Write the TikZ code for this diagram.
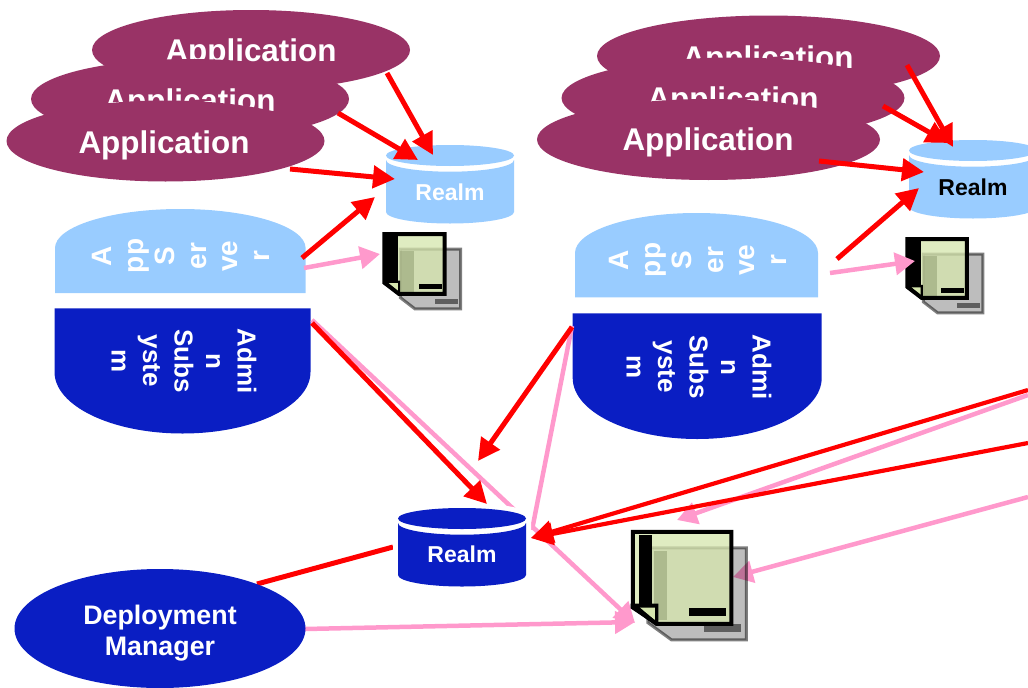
\documentclass[tikz,border=0pt]{standalone}
\usepackage{fontspec}
\setmainfont{Liberation Sans}
\usetikzlibrary{arrows.meta,shapes.geometric}
\definecolor{plum}{HTML}{993366}
\definecolor{lightb}{HTML}{99CCFF}
\definecolor{darkb}{HTML}{0A1EC3}
\definecolor{pinkl}{HTML}{FF99CC}
\definecolor{docg}{HTML}{D6E6AE}
\tikzset{
  appell/.style={ellipse,fill=plum,inner sep=0pt,minimum width=318pt,minimum height=80pt},
  appellb/.style={ellipse,fill=plum,inner sep=0pt,minimum width=343pt,minimum height=81pt},
  apptxt/.style={anchor=base,inner sep=0pt,text=white,font=\fontsize{31.4}{36}\selectfont\bfseries},
  realmtxt/.style={anchor=base,inner sep=0pt,font=\fontsize{23}{27}\selectfont\bfseries},
  servertxt/.style={inner sep=0pt,text=white,align=center,rotate=90,font=\fontsize{28}{31.5}\selectfont\bfseries},
  admintxt/.style={inner sep=0pt,text=white,align=center,rotate=-90,font=\fontsize{26}{31.5}\selectfont\bfseries},
  redarrow/.style={draw=red,line width=5pt,-{Triangle[length=22pt,width=22pt]}},
  pinkarrow/.style={draw=pinkl,line width=4.5pt,-{Triangle[length=20pt,width=22pt]}},
  redlong/.style={draw=red,line width=4.2pt,-{Triangle[length=22pt,width=22pt]}},
  pinkline/.style={draw=pinkl,line width=4.5pt}
}
% x, top, fill, text colour, baseline, name
\newcommand{\realmdb}[6]{%
  \draw[white,line width=10pt] (#1-64,#2+10.5) arc[start angle=180,end angle=0,x radius=64pt,y radius=10.5pt]
     -- (#1+64,#2+67) arc[start angle=360,end angle=180,x radius=64pt,y radius=11.5pt] -- cycle;
  \fill[#3] (#1-64,#2+15) -- (#1-64,#2+67) arc[start angle=180,end angle=360,x radius=64pt,y radius=11.5pt]
     -- (#1+64,#2+15) arc[start angle=360,end angle=180,x radius=64pt,y radius=11.7pt] -- cycle;
  \node[ellipse,fill=#3,inner sep=0pt,minimum width=128pt,minimum height=21pt] (#6top) at (#1,#2+10.5) {};
  \node[realmtxt,text=#4] (#6) at (#1,#5) {Realm};
}
% x y w h dx dy, left and right edge of the black band
\newcommand{\docicon}[8]{%
  \begin{scope}[shift={(#1+#5,#2+#6)},x=#3pt,y=-#4pt]
    \path[fill=black,fill opacity=.26,draw=black,draw opacity=.5,line width=3pt,miter limit=10]
      (0.02,0.02)--(0.98,0.02)--(0.98,0.98)--(0.25,0.98)--(0.02,0.80)--cycle;
    \fill[black,opacity=.8] (#7,0.05) rectangle (#8,0.77);
    \fill[black,opacity=.5] (0.57,0.815) rectangle (0.93,0.90);
  \end{scope}
  \begin{scope}[shift={(#1,#2)},x=#3pt,y=-#4pt]
    \fill[docg,opacity=.77] (0.02,0.02)--(0.98,0.02)--(0.98,0.98)--(0.25,0.98)--(0.02,0.80)--cycle;
    \fill[black] (#7,0.05) rectangle (#8,0.77);
    \fill[black] (0.57,0.815) rectangle (0.93,0.90);
    \fill[black] (0,0.77)--(0.27,0.77)--(0.27,1)--(0.25,1)--(0,0.82)--cycle;
    \fill[docg] (0.09,0.81)--(0.235,0.81)--(0.235,0.94)--cycle;
    \draw[black,line width=4pt,line join=miter]
      (0.02,0.02)--(0.98,0.02)--(0.98,0.98)--(0.25,0.98)--(0.02,0.80)--cycle;
  \end{scope}
}
\begin{document}
\begin{tikzpicture}[x=1pt,y=-1pt]
\useasboundingbox (0,0) rectangle (1028,688);
\clip (0,0) rectangle (1028,688);

% connector end points
\coordinate (lA1) at (387,73);   \coordinate (lR1) at (433,155);
\coordinate (lA2) at (338,113);  \coordinate (lR2) at (418,160);
\coordinate (lA3) at (290,169);  \coordinate (lR3) at (395,179);
\coordinate (lS1) at (302,258);  \coordinate (lR4) at (375,197);
\coordinate (lS2) at (304,268);  \coordinate (lD)  at (380,254);
\coordinate (rA1) at (907,65);   \coordinate (rR1) at (953,147);
\coordinate (rA2) at (883,106);  \coordinate (rR2) at (948,143);
\coordinate (rA3) at (819,161);  \coordinate (rR3) at (924,172);
\coordinate (rS1) at (837,259);  \coordinate (rR4) at (919,188);
\coordinate (rS2) at (830,273);  \coordinate (rD)  at (915,261);
\coordinate (lAdm1) at (312,323); \coordinate (bR1) at (487,504);
\coordinate (lAdm2) at (312,320); \coordinate (bigDa) at (635,623);
\coordinate (rAdm1) at (572,327); \coordinate (freeA) at (478,461);
\coordinate (rAdm2) at (572,326); \coordinate (bR2) at (532,530);
\coordinate (dm1) at (257,584);   \coordinate (bR3) at (393,547);
\coordinate (dm2) at (305,629);   \coordinate (bigDb) at (635,622);
\coordinate (off1) at (1028,390); \coordinate (bR4) at (531,538);
\coordinate (off2) at (1028,443);
\coordinate (off3) at (1028,395); \coordinate (bigDc) at (677,520);
\coordinate (off4) at (1028,497); \coordinate (bigDd) at (733,577);

% applications, left
\node[appell] (la1) at (251,50) {};
\node[apptxt] (la1t) at (251,61) {Application};
\node[appell] (la2) at (190,99) {};
\node[apptxt] (la2t) at (190,111) {Application};
\node[appell,minimum height=81pt] (la3) at (165.5,141) {};
\node[apptxt] (la3t) at (164,153) {Application};
% applications, right
\node[appellb] (ra1) at (768.5,56) {};
\node[apptxt] (ra1t) at (768,68) {Application};
\node[appellb] (ra2) at (733,98) {};
\node[apptxt] (ra2t) at (733,109) {Application};
\node[appellb] (ra3) at (708.5,139.5) {};
\node[apptxt] (ra3t) at (708,150) {Application};

% app servers
\fill[lightb] (55,293) -- (55,248) arc[start angle=180,end angle=0,x radius=125.3pt,y radius=39pt] -- (305.6,293) -- cycle;
\node[servertxt] (lsrv) at (181,256) {A\\pp\\S\\er\\ve\\r};
\fill[lightb] (575,297.3) -- (575,253) arc[start angle=180,end angle=0,x radius=121.5pt,y radius=40pt] -- (818,297.3) -- cycle;
\node[servertxt] (rsrv) at (698,260) {A\\pp\\S\\er\\ve\\r};

% admin subsystems
\fill[darkb] (54.5,308.3) -- (54.5,372) arc[start angle=180,end angle=360,x radius=128pt,y radius=61.5pt] -- (310.5,308.3) -- cycle;
\node[admintxt] (ladm) at (184,361) {Admi\\n\\Subs\\yste\\m};
\fill[darkb] (572.7,313.3) -- (572.7,378) arc[start angle=180,end angle=360,x radius=124.5pt,y radius=61pt] -- (821.7,313.3) -- cycle;
\node[admintxt] (radm) at (699,367) {Admi\\n\\Subs\\yste\\m};

% pink lines that pass behind shapes
\draw[pinkarrow] (lAdm2) -- (bigDa);
\draw[pinkline] (rAdm2) -- (bR2);
\draw[pinkarrow] (off4) -- (bigDd);
\draw[red,line width=5pt] (dm1) -- (bR3);

% realms
\realmdb{450}{145}{lightb}{white}{200}{lrealm}
\realmdb{973}{140}{lightb}{black}{195}{rrealm}
\realmdb{462}{508}{darkb}{white}{562}{brealm}

% document icons
\docicon{383}{233}{63}{62}{16}{15}{0.02}{0.24}
\docicon{906}{238}{62}{61}{16}{15}{0.02}{0.24}
\docicon{630.7}{530}{102.6}{95.7}{15}{16}{0.08}{0.21}

% deployment manager
\draw[pinkarrow] (dm2) -- (bigDb);
\node[ellipse,fill=darkb,inner sep=0pt,minimum width=291pt,minimum height=119pt] (dm) at (160,628.5) {};
\node[inner sep=0pt,text=white,align=center,font=\fontsize{26.8}{31}\selectfont\bfseries] (dmt) at (160,633) {Deployment\\Manager};

% connectors
\draw[pinkarrow] (lS2) -- (lD);
\draw[pinkarrow] (rS2) -- (rD);
\draw[pinkarrow] (off3) -- (bigDc);
\draw[redarrow] (lA1) -- (lR1);
\draw[redarrow] (lA2) -- (lR2);
\draw[redarrow] (lA3) -- (lR3);
\draw[redarrow] (lS1) -- (lR4);
\draw[redarrow] (rA1) -- (rR1);
\draw[redarrow] (rA2) -- (rR2);
\draw[redarrow] (rA3) -- (rR3);
\draw[redarrow] (rS1) -- (rR4);
\draw[redarrow] (lAdm1) -- (bR1);
\draw[redarrow] (rAdm1) -- (freeA);
\draw[redlong] (off1) -- (bR4);
\draw[redlong] (off2) -- (bR4);
\end{tikzpicture}
\end{document}
